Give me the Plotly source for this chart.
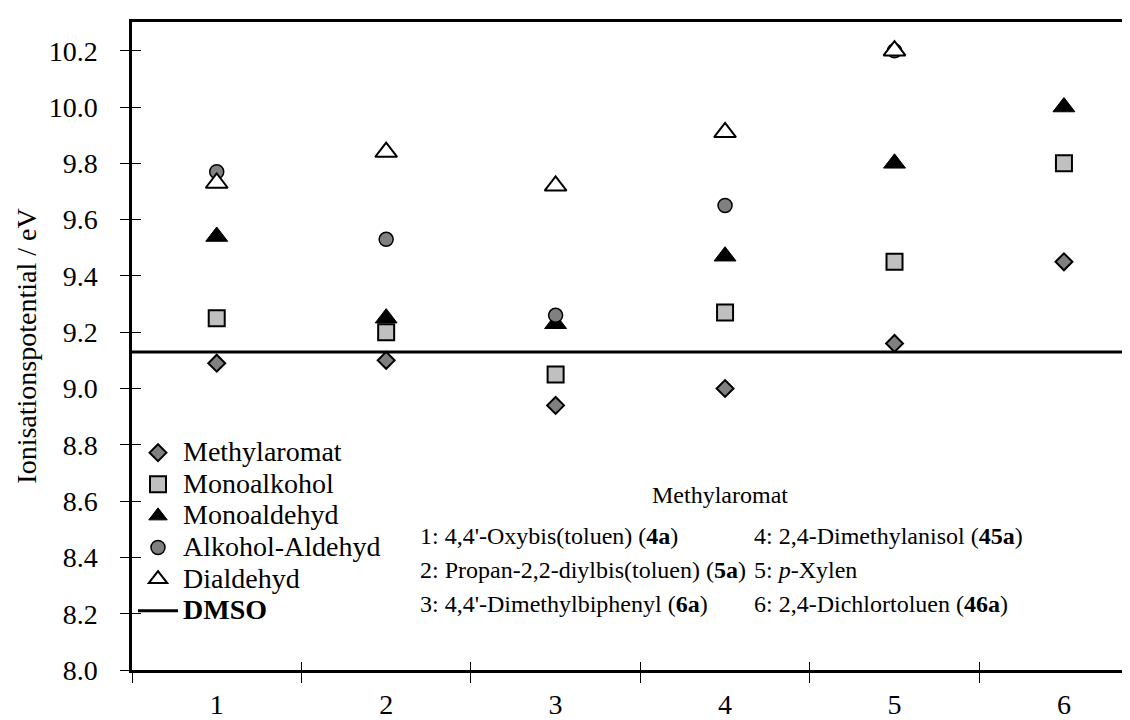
import plotly.graph_objects as go

# ---- data ----
categories = [1, 2, 3, 4, 5, 6]
cat_labels = ["1", "2", "3", "4", "5", "6"]
methylaromat = [9.09, 9.10, 8.94, 9.00, 9.16, 9.45]
monoalkohol = [9.25, 9.20, 9.05, 9.27, 9.45, 9.80]
monoaldehyd = [9.54, 9.25, 9.23, 9.47, 9.80, 10.00]
alkohol_aldehyd = [9.77, 9.53, 9.26, 9.65, 10.20, None]
dialdehyd = [9.73, 9.84, 9.72, 9.91, 10.20, None]
dmso = 9.13
y_ticks = [8.0, 8.2, 8.4, 8.6, 8.8, 9.0, 9.2, 9.4, 9.6, 9.8, 10.0, 10.2]
y_range = [8.0, 10.302]
x_range = [0.5, 6.437]

header_text = "Methylaromat"
left_lines = [
    "1: 4,4'-Oxybis(toluen) (<b>4a</b>)",
    "2: Propan-2,2-diylbis(toluen) (<b>5a</b>)",
    "3: 4,4'-Dimethylbiphenyl (<b>6a</b>)",
]
right_lines = [
    "4: 2,4-Dimethylanisol (<b>45a</b>)",
    "5: <i>p</i>-Xylen",
    "6: 2,4-Dichlortoluen (<b>46a</b>)",
]

dividers = [c - 0.5 for c in categories]
FONT = 'Liberation Serif, "Times New Roman", Times, serif'
LEG_SPAN = '<span style="font-size:28px">{}</span>'

fig = go.Figure()

series = [
    ("Methylaromat", methylaromat, dict(symbol="diamond", size=13, color="#808080",
                                        line=dict(color="black", width=2))),
    ("Monoalkohol", monoalkohol, dict(symbol="square", size=16, color="#c0c0c0",
                                      line=dict(color="black", width=2))),
    ("Monoaldehyd", monoaldehyd, dict(symbol="triangle-up", size=19, color="black",
                                      line=dict(color="black", width=1))),
    ("Alkohol-Aldehyd", alkohol_aldehyd, dict(symbol="circle", size=14, color="#808080",
                                              line=dict(color="black", width=1.5))),
    ("Dialdehyd", dialdehyd, dict(symbol="triangle-up", size=19, color="white",
                                  line=dict(color="black", width=2))),
]
for name, vals, mk in series:
    fig.add_trace(go.Scatter(x=categories, y=vals, mode="markers",
                             name=LEG_SPAN.format(name), marker=mk, cliponaxis=False))

fig.add_trace(go.Scatter(x=[None], y=[None], mode="lines",
                         name=LEG_SPAN.format("<b>DMSO</b>"),
                         line=dict(color="black", width=3)))

# helper overlay axes for the inside halves of the ticks
fig.add_trace(go.Scatter(x=[], y=[], xaxis="x2", yaxis="y2", showlegend=False,
                         hoverinfo="skip"))

fig.add_hline(y=dmso, line=dict(color="black", width=3))

fig.update_layout(
    width=1130, height=720,
    margin=dict(l=124, r=0, t=14, b=58),
    paper_bgcolor="white", plot_bgcolor="white",
    font=dict(family=FONT, size=28, color="black"),
    showlegend=True,
    legend=dict(x=0.001, y=0.3675, xanchor="left", yanchor="top",
                bgcolor="rgba(0,0,0,0)", font=dict(family=FONT, size=22, color="black"),
                itemwidth=40, tracegroupgap=0),
    xaxis=dict(range=x_range, tickmode="array", tickvals=categories, ticktext=cat_labels,
               ticks="", showgrid=False, zeroline=False, automargin=False,
               showline=True, linecolor="black", linewidth=2.5, mirror=True,
               minor=dict(tickmode="array", tickvals=dividers, ticks="outside",
                          ticklen=10, tickwidth=1.3, tickcolor="black", showgrid=False),
               tickfont=dict(family=FONT, size=28), ticklabelstandoff=8),
    yaxis=dict(range=y_range, tickmode="array", tickvals=y_ticks, tickformat=".1f",
               ticks="outside", ticklen=9, tickwidth=1.3, tickcolor="black",
               showgrid=False, zeroline=False, showline=True, linecolor="black",
               linewidth=2.5, automargin=False,
               tickfont=dict(family=FONT, size=28), ticklabelstandoff=17,
               title=dict(text="Ionisationspotential / eV", standoff=4,
                          font=dict(family=FONT, size=28))),
    xaxis2=dict(overlaying="x", anchor="y2", side="bottom", range=x_range,
                tickmode="array", tickvals=dividers, ticks="inside", ticklen=8,
                tickwidth=1.3, tickcolor="black", showticklabels=False,
                showgrid=False, zeroline=False, showline=False),
    yaxis2=dict(overlaying="y", anchor="x2", side="left", range=y_range,
                tickmode="array", tickvals=y_ticks, ticks="inside", ticklen=9,
                tickwidth=1.3, tickcolor="black", showticklabels=False,
                showgrid=False, zeroline=False, showline=False),
)

ann_font = dict(family=FONT, size=24, color="black")
row_y = [528, 562, 596]
header_y = 487
header_x = 712
left_x = 410
right_x = 744
plot_top, plot_h = 14, 648.2
plot_left, plot_w = 124.3, 1005.7


def to_paper(px, py):
    return (px - plot_left) / plot_w, (plot_top + plot_h - py) / plot_h


hx, hy = to_paper(header_x, header_y)
fig.add_annotation(x=hx, y=hy, xref="paper", yref="paper", text=header_text,
                   showarrow=False, xanchor="center", yanchor="middle", font=ann_font)
for i, (lt, rt) in enumerate(zip(left_lines, right_lines)):
    lx, ly = to_paper(left_x, row_y[i])
    rx, _ = to_paper(right_x, row_y[i])
    fig.add_annotation(x=lx, y=ly, xref="paper", yref="paper", text=lt, showarrow=False,
                       xanchor="left", yanchor="middle", font=ann_font)
    fig.add_annotation(x=rx, y=ly, xref="paper", yref="paper", text=rt, showarrow=False,
                       xanchor="left", yanchor="middle", font=ann_font)

fig.write_html("out.html")
